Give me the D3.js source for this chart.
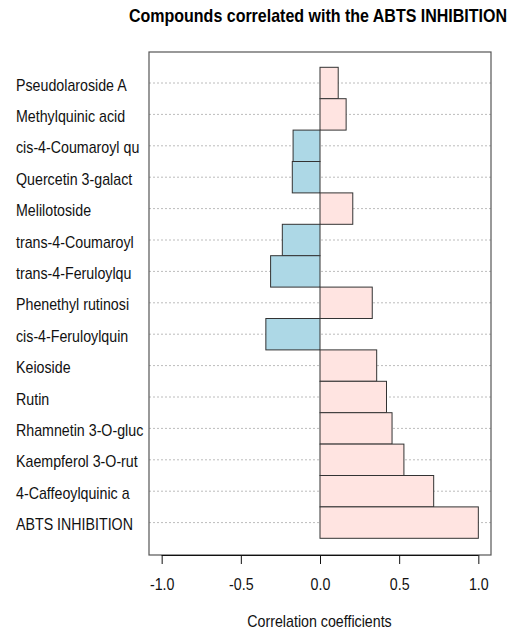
<!DOCTYPE html>
<html>
<head>
<meta charset="utf-8">
<script src="https://cdn.jsdelivr.net/npm/d3@7"></script>
<style>
  html, body { margin: 0; padding: 0; background: #fff; }
  svg { display: block; font-family: "Liberation Sans", Arial, sans-serif; }
</style>
</head>
<body>
<svg id="chart" width="514" height="634"></svg>
<script>
// Compounds listed top to bottom, with their correlation to ABTS inhibition
const compounds = [
  "Pseudolaroside A",
  "Methylquinic acid",
  "cis-4-Coumaroyl qu",
  "Quercetin 3-galact",
  "Melilotoside",
  "trans-4-Coumaroyl",
  "trans-4-Feruloylqu",
  "Phenethyl rutinosi",
  "cis-4-Feruloylquin",
  "Keioside",
  "Rutin",
  "Rhamnetin 3-O-gluc",
  "Kaempferol 3-O-rut",
  "4-Caffeoylquinic a",
  "ABTS INHIBITION"
];
const correlations = [0.115, 0.165, -0.17, -0.175, 0.207, -0.238, -0.312, 0.33, -0.342, 0.358, 0.42, 0.455, 0.53, 0.718, 1.0];
const xTicks = [-1, -0.5, 0, 0.5, 1];

const titleText = "Compounds correlated with the ABTS INHIBITION";
const xAxisTitle = "Correlation coefficients";

// text is drawn slightly condensed horizontally
const SX = 0.89;

const svg = d3.select("#chart");

const plot = { left: 149, right: 491, top: 52, bottom: 555 };

const x = d3.scaleLinear().domain([-1.08, 1.08]).range([plot.left, plot.right]);
const y = d3.scaleBand().domain(compounds).range([67.3, 538.3]).padding(0);

function addText(parent, tx, ty, str, opts) {
  const g = parent.append("g").attr("transform", `translate(${tx},${ty}) scale(${SX},1)`);
  const t = g.append("text")
    .attr("x", 0).attr("y", 0)
    .attr("font-size", opts.size)
    .attr("fill", opts.fill || "#111")
    .attr("text-anchor", opts.anchor || "start")
    .text(str);
  if (opts.bold) t.attr("font-weight", "bold");
  return t;
}

// dotted guide lines at each row
svg.append("g")
  .selectAll("line")
  .data(compounds)
  .join("line")
  .attr("x1", plot.left)
  .attr("x2", plot.right)
  .attr("y1", d => y(d) + y.bandwidth() / 2)
  .attr("y2", d => y(d) + y.bandwidth() / 2)
  .attr("stroke", "#bcbcbc")
  .attr("stroke-width", 1)
  .attr("stroke-dasharray", "2,2");

// bars
svg.append("g")
  .selectAll("rect")
  .data(compounds.map((c, i) => ({ name: c, value: correlations[i] })))
  .join("rect")
  .attr("x", d => x(Math.min(0, d.value)))
  .attr("width", d => Math.abs(x(d.value) - x(0)))
  .attr("y", d => y(d.name))
  .attr("height", y.bandwidth())
  .attr("fill", d => d.value >= 0 ? "#ffe4e1" : "#add8e6")
  .attr("stroke", "#333")
  .attr("stroke-width", 1);

// plot frame
svg.append("rect")
  .attr("x", plot.left)
  .attr("y", plot.top)
  .attr("width", plot.right - plot.left)
  .attr("height", plot.bottom - plot.top)
  .attr("fill", "none")
  .attr("stroke", "#555")
  .attr("stroke-width", 1.2);

// category labels
const labelG = svg.append("g");
compounds.forEach(c => {
  addText(labelG, 16, y(c) + y.bandwidth() / 2 + 7.5, c, { size: 16 });
});

// bottom axis
const axis = d3.axisBottom(x)
  .tickValues(xTicks)
  .tickFormat(d => d.toFixed(1))
  .tickSize(9);
const axG = svg.append("g")
  .attr("transform", `translate(0,${plot.bottom})`)
  .call(axis);
axG.select(".domain")
  .attr("d", `M${x(-1)},0.5H${x(1)}`)
  .attr("stroke", "#111");
axG.selectAll(".tick line").attr("stroke", "#111");
axG.selectAll(".tick text")
  .attr("y", 35)
  .attr("dy", null)
  .attr("transform", `scale(${SX},1)`)
  .attr("font-size", 16)
  .attr("font-family", "Liberation Sans, Arial, sans-serif")
  .attr("fill", "#111");

// titles
addText(svg, 318, 21.5, titleText, { size: 18, bold: true, anchor: "middle", fill: "#000" });
addText(svg, 319.5, 626.5, xAxisTitle, { size: 16, anchor: "middle" });
</script>
</body>
</html>
